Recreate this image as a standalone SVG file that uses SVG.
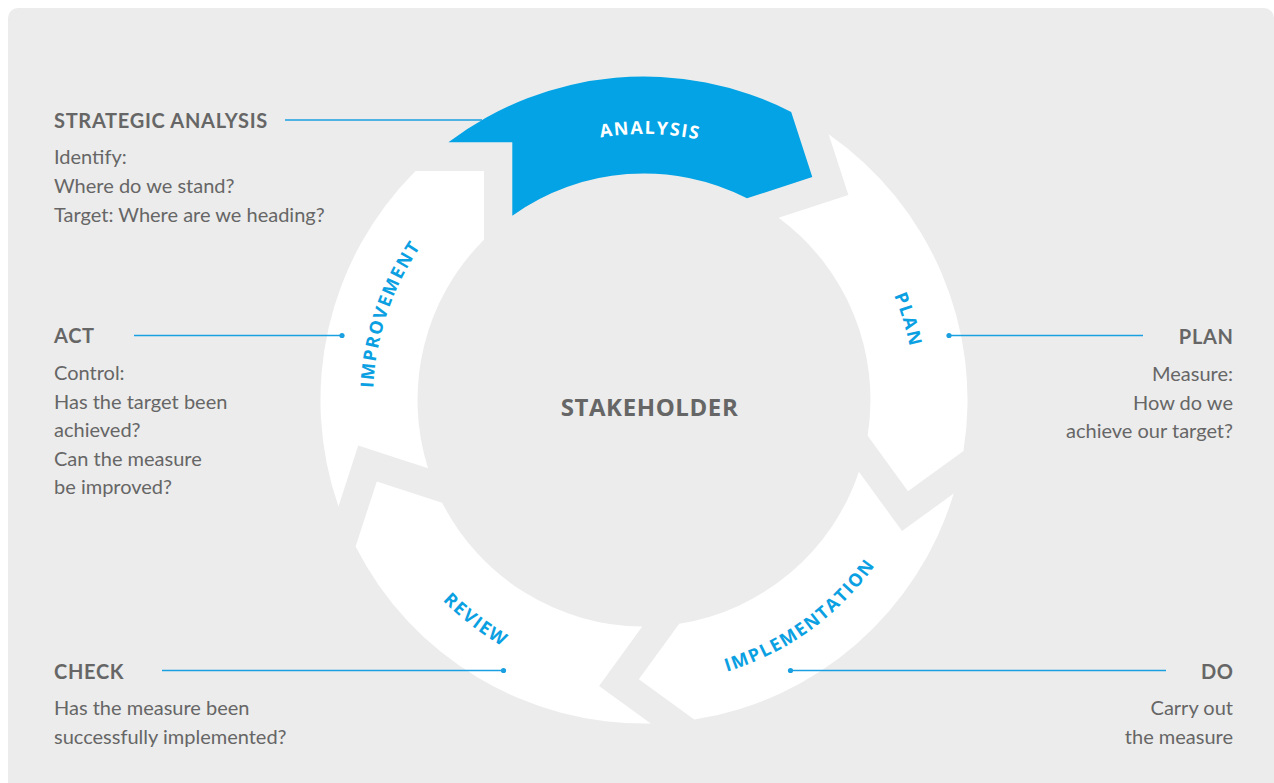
<svg xmlns="http://www.w3.org/2000/svg" width="1274" height="783" viewBox="0 0 1274 783">
<defs>
<path id="seg" d="M448.4,142.3 A323.5,323.5 0 0,1 791.2,111.9 L812.3,177.1 L747,198.3 A226.5,226.5 0 0,0 512.3,215.7 L512.3,142.3 Z"/>
<path id="topArc" d="M413.6,267 A266,266 0 0,1 874.4,267" fill="none"/>
<path id="topArc2" d="M409.3,264.5 A271,271 0 0,1 878.7,264.5" fill="none"/>
<path id="botArc" d="M398,542 A284,284 0 0,0 890,542" fill="none"/>
</defs>
<style>
.head{font-family:Lato,"Liberation Sans",sans-serif;font-weight:700;font-size:20px;letter-spacing:0.7px;fill:#666666}
.body{font-family:Lato,"Liberation Sans",sans-serif;font-weight:400;font-size:20px;fill:#666666}
.r{text-anchor:end}
.lbl{font-family:"Open Sans","Liberation Sans",sans-serif;font-weight:700;font-size:18px;letter-spacing:1.6px;fill:#0aa0e2}
.seg{fill:#ffffff}
.line{stroke:#1aa0e0;stroke-width:1.5;fill:none}
.dot{fill:#1aa0e0}
</style>
<rect x="8" y="8" width="1266" height="800" rx="10" fill="#ececec"/>

<g id="analysis">
<use href="#seg" fill="#03a3e5"/>
<text class="lbl" style="fill:#ffffff" transform="rotate(1.3 644 400)"><textPath href="#topArc" startOffset="50%" text-anchor="middle">ANALYSIS</textPath></text>
</g>
<g id="plan">
<use href="#seg" class="seg" transform="rotate(72 644 400)"/>
<text class="lbl" transform="rotate(73.1 644 400)"><textPath href="#topArc2" startOffset="50%" text-anchor="middle">PLAN</textPath></text>
</g>
<g id="implementation">
<use href="#seg" class="seg" transform="rotate(144 644 400)"/>
<text class="lbl" transform="rotate(-35.8 644 400)"><textPath href="#botArc" startOffset="50%" text-anchor="middle">IMPLEMENTATION</textPath></text>
</g>
<g id="review">
<use href="#seg" class="seg" transform="rotate(216 644 400)"/>
<text class="lbl" transform="rotate(37.4 644 400)"><textPath href="#botArc" startOffset="50%" text-anchor="middle">REVIEW</textPath></text>
</g>
<g id="improvement">
<use href="#seg" class="seg" transform="rotate(288 644 400)"/>
<text class="lbl" transform="rotate(-71.4 644 400)"><textPath href="#topArc2" startOffset="50%" text-anchor="middle">IMPROVEMENT</textPath></text>
</g>

<g id="stakeholder">
<text x="649.5" y="416" text-anchor="middle" style="font-family:'Open Sans','Liberation Sans',sans-serif;font-weight:700;font-size:24px;letter-spacing:0.6px;fill:#666666">STAKEHOLDER</text>
</g>

<g id="connectors">
<line class="line" x1="285" y1="120" x2="482" y2="120"/>
<line class="line" x1="134" y1="335.5" x2="342" y2="335.5"/>
<circle class="dot" cx="342" cy="335.5" r="2.6"/>
<line class="line" x1="949" y1="335.5" x2="1143" y2="335.5"/>
<circle class="dot" cx="949" cy="335.5" r="2.6"/>
<line class="line" x1="162" y1="670.5" x2="503.5" y2="670.5"/>
<circle class="dot" cx="503.5" cy="670.5" r="2.6"/>
<line class="line" x1="790.5" y1="670.5" x2="1166" y2="670.5"/>
<circle class="dot" cx="790.5" cy="670.5" r="2.6"/>
</g>

<g id="strategic-analysis">
<text class="head" x="54" y="128">STRATEGIC ANALYSIS</text>
<text class="body" x="54" y="164">Identify:</text>
<text class="body" x="54" y="193">Where do we stand?</text>
<text class="body" x="54" y="221.5">Target: Where are we heading?</text>
</g>
<g id="act">
<text class="head" x="54" y="343">ACT</text>
<text class="body" x="54" y="380">Control:</text>
<text class="body" x="54" y="408.5">Has the target been</text>
<text class="body" x="54" y="437">achieved?</text>
<text class="body" x="54" y="465.5">Can the measure</text>
<text class="body" x="54" y="494">be improved?</text>
</g>
<g id="plan-text">
<text class="head r" x="1233.7" y="344">PLAN</text>
<text class="body r" x="1233" y="381">Measure:</text>
<text class="body r" x="1233" y="409.5">How do we</text>
<text class="body r" x="1233" y="438">achieve our target?</text>
</g>
<g id="check">
<text class="head" x="54" y="679">CHECK</text>
<text class="body" x="54" y="715">Has the measure been</text>
<text class="body" x="54" y="744">successfully implemented?</text>
</g>
<g id="do">
<text class="head r" x="1233.7" y="679">DO</text>
<text class="body r" x="1233" y="715">Carry out</text>
<text class="body r" x="1233" y="744">the measure</text>
</g>
</svg>
